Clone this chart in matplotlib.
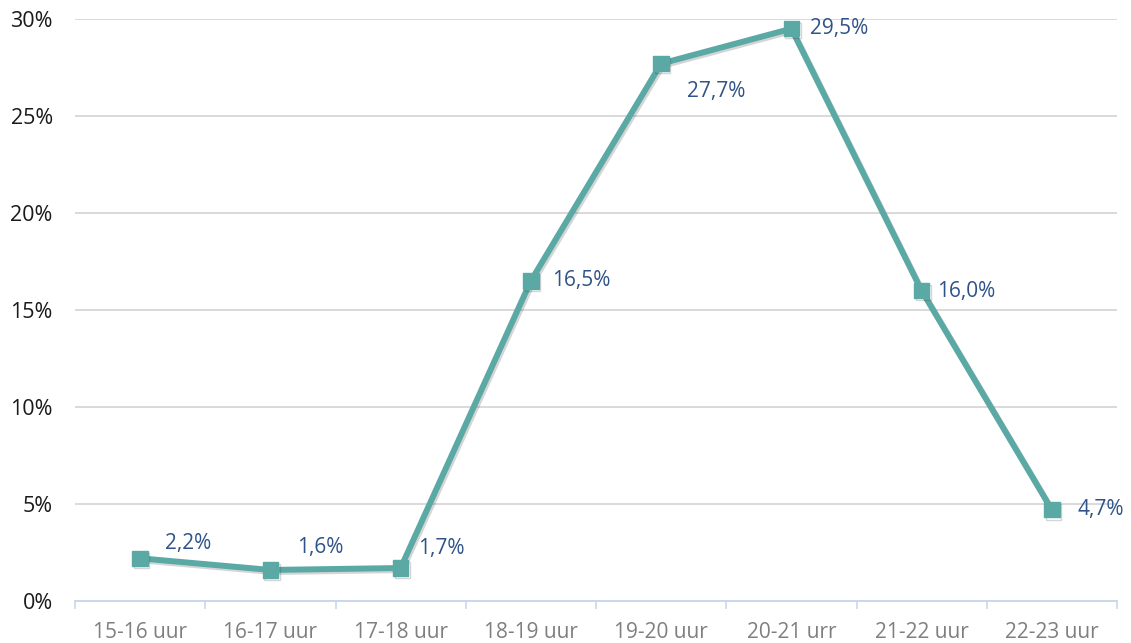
import numpy as np
import matplotlib.pyplot as plt
import matplotlib.patheffects as pe
from matplotlib.ticker import FixedLocator, FuncFormatter

# share of visitors per hour block
hours = ["15-16 uur", "16-17 uur", "17-18 uur", "18-19 uur",
         "19-20 uur", "20-21 urr", "21-22 uur", "22-23 uur"]
share = [2.2, 1.6, 1.7, 16.5, 27.7, 29.5, 16.0, 4.7]

# label offsets in pixels (dx, dy) relative to each marker
label_offsets = [(48, 15), (50, 22), (41, 20), (50, 0),
                 (55, -28), (48, 0), (45, -1), (49, 0)]

line_color = "#5BA9A5"
label_color = "#2F5389"

plt.rcParams["font.family"] = ["Open Sans", "DejaVu Sans"]

fig = plt.figure(figsize=(11.31, 6.43), dpi=100)
ax = fig.add_axes([75 / 1131, 1 - 601 / 643, 1042 / 1131, 582 / 643])

x = np.arange(len(hours))
ax.plot(x, share, color=line_color, lw=4.3, marker="s", markersize=11,
        solid_joinstyle="miter", zorder=3,
        path_effects=[pe.SimpleLineShadow(offset=(1.2, -1.5), alpha=0.2, shadow_color="#303030"),
                      pe.Normal()])

px = 72 / fig.dpi
for xi, v, (dx, dy) in zip(x, share, label_offsets):
    ax.annotate(f"{v:.1f}%".replace(".", ","), (xi, v),
                xytext=(dx * px, dy * px), textcoords="offset points",
                ha="center", va="center", fontsize=15, color=label_color, zorder=4)

ax.set_xlim(-0.5, len(hours) - 0.5)
ax.set_ylim(0, 30)
ax.set_yticks(np.arange(0, 31, 5))
ax.yaxis.set_major_formatter(FuncFormatter(lambda v, _: f"{v:.0f}%"))
ax.grid(axis="y", color="#D9D9D9", lw=1.4)
ax.set_axisbelow(True)

ax.set_xticks(x)
ax.set_xticklabels(hours)
ax.xaxis.set_minor_locator(FixedLocator(np.arange(-0.5, len(hours), 1.0)))
ax.tick_params(axis="x", which="major", length=0, pad=15, labelsize=15, labelcolor="#7F7F7F")
ax.tick_params(axis="x", which="minor", length=6, width=1.2, color="#C9D7EC")
ax.tick_params(axis="y", length=0, pad=16, labelsize=15.5, labelcolor="#1A1A1A")

for side in ["top", "right", "left"]:
    ax.spines[side].set_visible(False)
ax.spines["bottom"].set_color("#C9D7EC")
ax.spines["bottom"].set_linewidth(1.4)

fig.savefig("out.png", dpi=100)
